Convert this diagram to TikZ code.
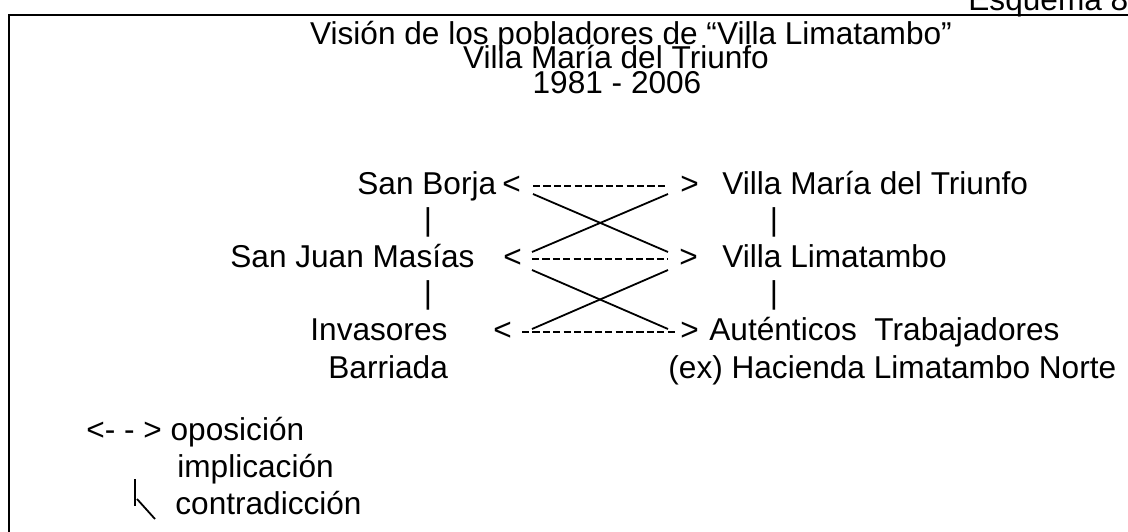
\documentclass[tikz,border=0pt]{standalone}
\usepackage{fontspec}
\setmainfont{Liberation Sans}
\usetikzlibrary{positioning}
\usetikzlibrary{calc}

\tikzset{
  lbl/.style={inner sep=0pt, anchor=base west, font=\fontsize{15.8}{19}\selectfont},
  opp/.style={line width=1.4pt, dash pattern=on 3.6pt off 1.6pt},
  contra/.style={line width=0.9pt},
}

\begin{document}
\begin{tikzpicture}[x=0.5pt,y=-0.5pt]
\useasboundingbox (0,0) rectangle (1128,531);
\clip (0,0) rectangle (1128,531);
\draw [line width=1.4pt] (9,560) -- (9,15) -- (1150,15);

\node [lbl] (esq) at (968,10) {Esquema 8};
\node [lbl, anchor=base] (tit1) at (631,44) {Visión de los pobladores de “Villa Limatambo”};
\node [lbl, anchor=base] (tit2) at (616,68.5) {Villa María del Triunfo};
\node [lbl, anchor=base] (tit3) at (617,93) {1981 - 2006};

% left column
\node [lbl] (sborja) at (357,194) {San Borja};
\node [lbl] (sjuan) at (230,267) {San Juan Masías};
\node [lbl] (invas) at (310,340) {Invasores};
\node [lbl] (barri) at (328,378) {Barriada};
\node [lbl, anchor=base] (imp1) at (428,230.5) {|};
\node [lbl, anchor=base] (imp2) at (428,303.5) {|};

% right column
\node [lbl] (vmtri) at (722,194) {Villa María del Triunfo};
\node [lbl] (vlima) at (722,267) {Villa Limatambo};
\node [lbl] (autra) at (709,340) {Auténticos\ \ Trabajadores};
\node [lbl] (hacie) at (668,378) {(ex) Hacienda Limatambo Norte};
\node [lbl, anchor=base] (imp3) at (774,230.5) {|};
\node [lbl, anchor=base] (imp4) at (774,303.5) {|};

% oposiciones
\node [lbl] (lt1) at (502,194) {<};
\node [lbl] (lt2) at (503,267) {<};
\node [lbl] (lt3) at (493,340) {<};
\node [lbl] (gt1) at (680,194) {>};
\node [lbl] (gt2) at (679,267) {>};
\node [lbl] (gt3) at (680,340) {>};
\coordinate (o1w) at (533,186);
\coordinate (o1e) at (668,186);
\coordinate (o2w) at (532,259);
\coordinate (o2e) at (668,259);
\coordinate (o3w) at (522,332);
\coordinate (o3e) at (678,332);
\draw [opp] (o1w) -- (o1e);
\draw [opp] (o2w) -- (o2e);
\draw [opp] (o3w) -- (o3e);

% contradicciones
\draw [contra] ($(o1w)+(0,8)$) -- ($(o2e)+(0,-7)$);
\draw [contra] ($(o2w)+(0,-7)$) -- ($(o1e)+(0,8)$);
\draw [contra] ($(o2w)+(0,11)$) -- ($(o2e|-o3e)+(0,-3)$);
\draw [contra] ($(o2w|-o3w)+(0,-3)$) -- ($(o2e)+(0,11)$);

% leyenda
\node [lbl] (leg1) at (86,440) {<- - > oposición};
\node [lbl] (leg2) at (177,477) {implicación};
\node [lbl] (leg3) at (175,514) {contradicción};
\draw [contra] (135,479) -- (135,506);
\draw [contra] (137,499) -- (155,519);
\end{tikzpicture}
\end{document}
